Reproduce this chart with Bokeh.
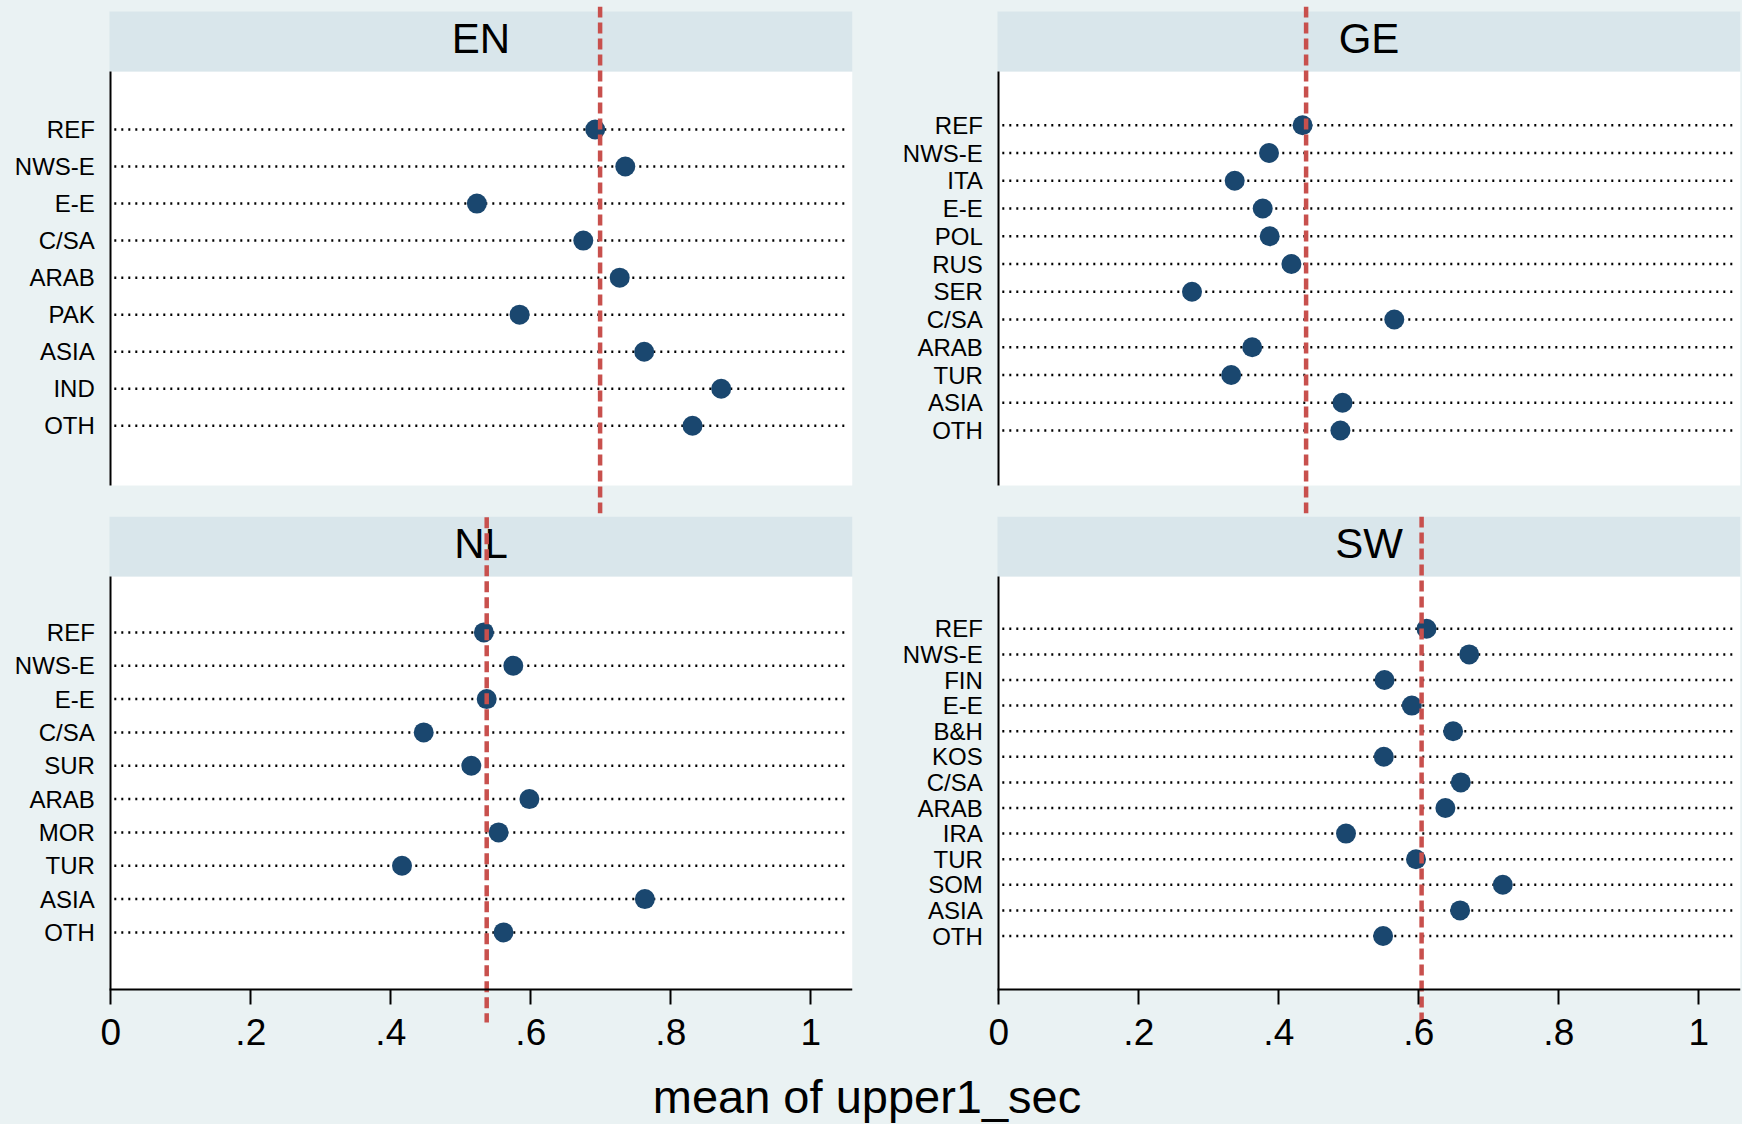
from bokeh.plotting import figure
from bokeh.models import Range1d, FixedTicker
from bokeh.layouts import row, column
from bokeh.embed import file_html
from bokeh.resources import INLINE
from bokeh.core.properties import value

# ---------------- data ----------------
en_groups = ["REF", "NWS-E", "E-E", "C/SA", "ARAB", "PAK", "ASIA", "IND", "OTH"]
en_means = [0.692, 0.735, 0.523, 0.675, 0.727, 0.584, 0.762, 0.872, 0.831]
en_ref_line = 0.699

ge_groups = ["REF", "NWS-E", "ITA", "E-E", "POL", "RUS", "SER", "C/SA", "ARAB", "TUR", "ASIA", "OTH"]
ge_means = [0.434, 0.386, 0.337, 0.377, 0.387, 0.418, 0.276, 0.565, 0.362, 0.332, 0.491, 0.488]
ge_ref_line = 0.439

nl_groups = ["REF", "NWS-E", "E-E", "C/SA", "SUR", "ARAB", "MOR", "TUR", "ASIA", "OTH"]
nl_means = [0.533, 0.575, 0.537, 0.447, 0.515, 0.598, 0.554, 0.416, 0.763, 0.561]
nl_ref_line = 0.537

sw_groups = ["REF", "NWS-E", "FIN", "E-E", "B&H", "KOS", "C/SA", "ARAB", "IRA", "TUR", "SOM", "ASIA", "OTH"]
sw_means = [0.611, 0.672, 0.551, 0.590, 0.649, 0.550, 0.660, 0.638, 0.496, 0.596, 0.720, 0.659, 0.549]
sw_ref_line = 0.604

x_ticks = [0, 0.2, 0.4, 0.6, 0.8, 1.0]
x_tick_labels = ["0", ".2", ".4", ".6", ".8", "1"]
x_title = "mean of upper1_sec"

# ---------------- style ----------------
BG = "#eaf2f3"
HEADER = "#d9e6eb"
NAVY = "#1a476f"
RED = "#c8504d"
FONT = value("Liberation Sans")
PX_PER_UNIT = 700.0
HEAD_X0 = -0.0019
DOT_X0, DOT_X1 = 0.005, 1.05

FIG_W = 871
TOP_H = 516
BOT_H = 554
STRIP_H = 54


def make_panel(name, groups, means, ref_line, first_px, last_px, fig_h,
               frame_top, frame_bottom, header_top, header_bottom, plot_bottom,
               red_top, red_bottom, axis_px, right_border, show_x):
    n = len(groups)
    s = (last_px - first_px) / (n - 1)

    def ypx(p):
        return (n - 1) - (p - first_px) / s

    frame_w = FIG_W - right_border
    xmin = -axis_px / PX_PER_UNIT
    xmax = (frame_w - axis_px) / PX_PER_UNIT

    ys = [n - 1 - i for i in range(n)]
    p = figure(width=FIG_W, height=fig_h,
               x_range=Range1d(xmin, xmax),
               y_range=Range1d(ypx(frame_bottom), ypx(frame_top)),
               output_backend="svg", toolbar_location=None,
               x_axis_location="below" if show_x else None,
               min_border_left=0, min_border_right=right_border,
               min_border_top=frame_top, min_border_bottom=fig_h - frame_bottom,
               background_fill_color=BG, border_fill_color=BG,
               outline_line_color=None)
    p.grid.visible = False

    # white plot region
    p.quad(left=[HEAD_X0], right=[xmax], bottom=[ypx(plot_bottom)], top=[ypx(header_bottom)],
           fill_color="white", line_color=None)
    # header strip
    p.quad(left=[HEAD_X0], right=[xmax], bottom=[ypx(header_bottom)], top=[ypx(header_top)],
           fill_color=HEADER, line_color=None)
    p.text(x=[(HEAD_X0 + xmax) / 2], y=[ypx(header_top + 27.2)], text=[name],
           text_align="center", text_baseline="middle", text_font=FONT,
           text_font_size="42px", text_color="black")

    # dotted guide lines
    p.segment(x0=[DOT_X0] * n, x1=[DOT_X1] * n, y0=ys, y1=ys,
              line_color="black", line_width=2.5, line_dash="2 5")

    # dots
    p.scatter(x=means, y=ys, size=20, fill_color=NAVY, line_color=None)

    # red dashed reference line
    p.segment(x0=[ref_line], x1=[ref_line], y0=[ypx(red_top)], y1=[ypx(red_bottom)],
              line_color=RED, line_width=4.5, line_dash="11 5")

    ax = p.yaxis[0]
    ax.fixed_location = 0
    ax.bounds = (ypx(plot_bottom), ypx(header_bottom))
    ax.ticker = FixedTicker(ticks=ys)
    ax.major_label_overrides = {y: g for y, g in zip(ys, groups)}
    ax.axis_line_color = "black"
    ax.axis_line_width = 2
    ax.major_tick_out = 0
    ax.major_tick_in = 0
    ax.minor_tick_out = 0
    ax.minor_tick_in = 0
    ax.major_label_standoff = 16
    ax.major_label_text_font = "Liberation Sans"
    ax.major_label_text_font_size = "24px"
    ax.major_label_text_color = "black"

    if show_x:
        xa = p.xaxis[0]
        xa.fixed_location = ypx(plot_bottom)
        xa.bounds = (HEAD_X0, xmax)
        xa.ticker = FixedTicker(ticks=x_ticks)
        xa.major_label_overrides = {t: l for t, l in zip(x_ticks, x_tick_labels)}
        xa.axis_line_width = 2
        xa.axis_line_color = "black"
        xa.major_tick_line_width = 2
        xa.major_tick_out = 15
        xa.major_tick_in = 0
        xa.minor_tick_out = 0
        xa.minor_tick_in = 0
        xa.major_label_standoff = 14
        xa.major_label_text_font = "Liberation Sans"
        xa.major_label_text_font_size = "37px"
        xa.major_label_text_color = "black"
    return p


en = make_panel("EN", en_groups, en_means, en_ref_line, 129.0, 425.3, TOP_H,
                6, 513, 11, 71, 485, 6, 513, 110.3, 19, False)
ge = make_panel("GE", ge_groups, ge_means, ge_ref_line, 124.8, 430.0, TOP_H,
                6, 513, 11, 71, 485, 6, 513, 127.3, 2, False)
nl = make_panel("NL", nl_groups, nl_means, nl_ref_line, 115.9, 415.9, BOT_H,
                0, BOT_H, 0, 60, 473, 0.7, 506, 110.3, 19, True)
sw = make_panel("SW", sw_groups, sw_means, sw_ref_line, 112.3, 419.5, BOT_H,
                0, BOT_H, 0, 60, 473, 0.0, 506, 127.3, 2, True)

strip = figure(width=2 * FIG_W, height=STRIP_H, x_range=Range1d(0, 1), y_range=Range1d(0, 1),
               output_backend="svg", toolbar_location=None,
               x_axis_location=None, y_axis_location=None, min_border=0,
               background_fill_color=BG, border_fill_color=BG, outline_line_color=None)
strip.grid.visible = False
strip.text(x=[866.5 / (2 * FIG_W)], y=[(STRIP_H - 26) / STRIP_H], text=[x_title],
           text_align="center", text_baseline="middle", text_font=FONT,
           text_font_size="47px", text_color="black")

bg_style = {"background-color": BG}
layout = column(row(en, ge, styles=bg_style), row(nl, sw, styles=bg_style), strip,
                styles=bg_style)
open("out.html", "w").write(file_html(layout, INLINE))
